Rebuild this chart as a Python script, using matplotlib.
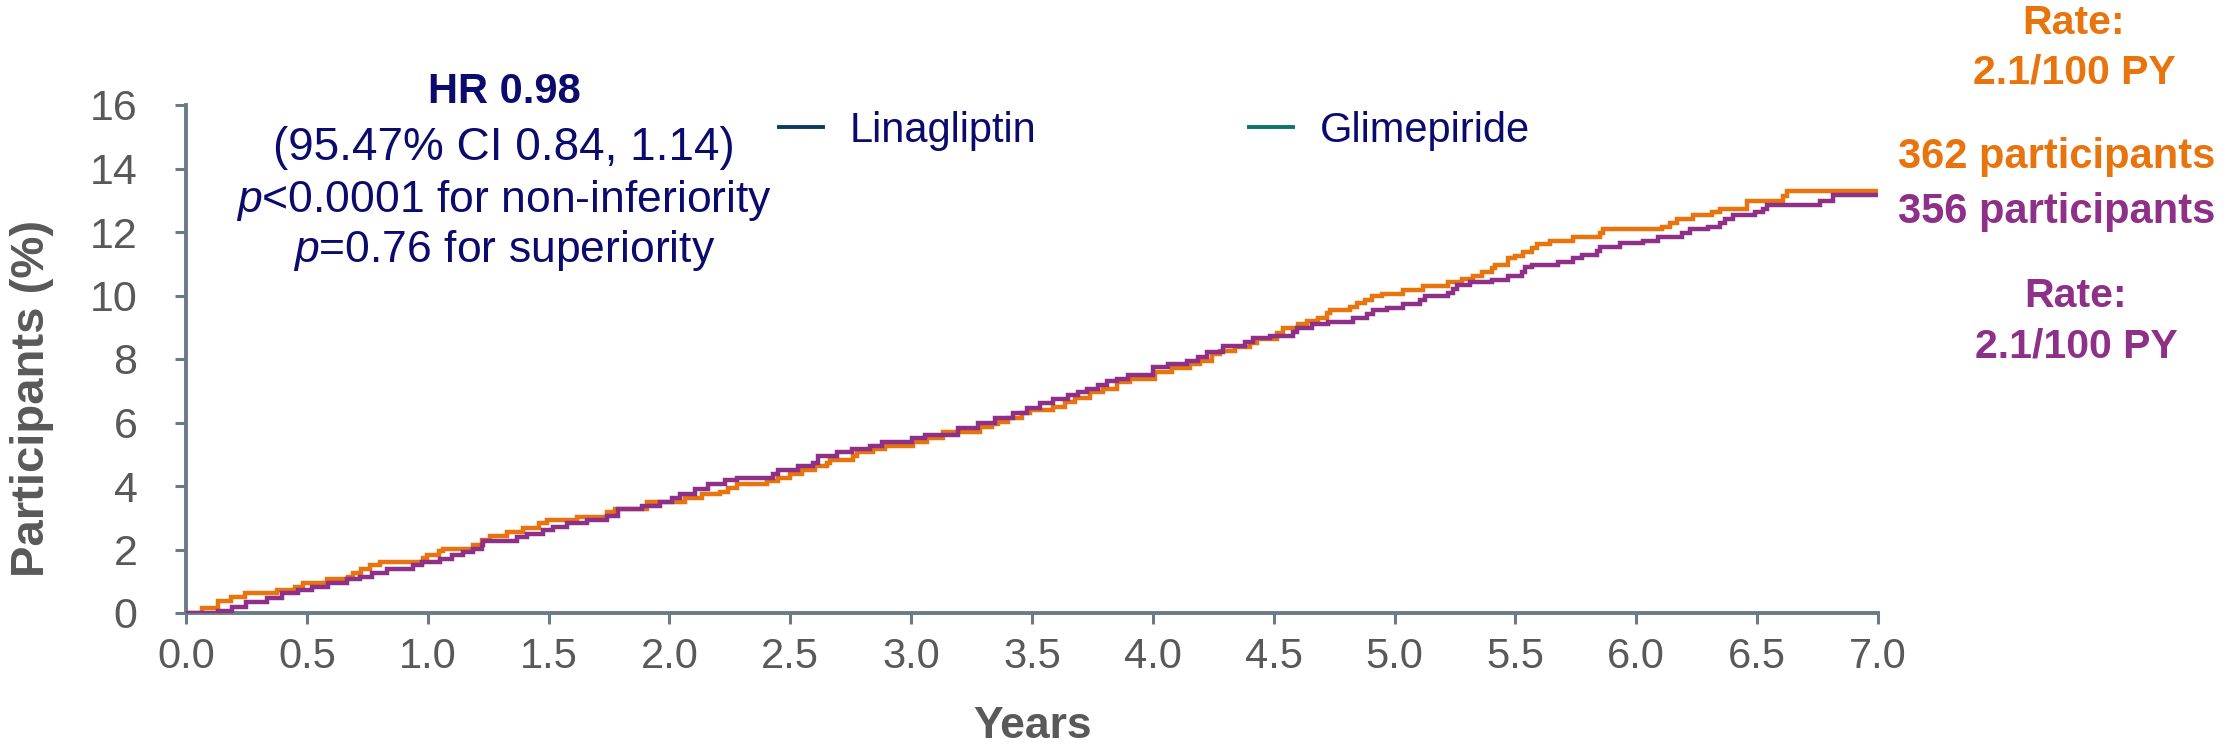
import matplotlib
matplotlib.use("Agg")
import matplotlib.pyplot as plt
from matplotlib.lines import Line2D

# Cumulative incidence (%) over follow-up (years); step times and levels after each event
glim_years = [0.0, 0.065, 0.134, 0.185, 0.244, 0.375, 0.451, 0.483, 0.582, 0.672, 0.692,
              0.724, 0.761, 0.803, 0.982, 0.999, 1.048, 1.065, 1.189, 1.223, 1.258, 1.327,
              1.396, 1.462, 1.492, 1.617, 1.741, 1.775, 1.906, 2.065, 2.134, 2.209, 2.244,
              2.278, 2.402, 2.451, 2.499, 2.547, 2.602, 2.651, 2.664, 2.761, 2.775, 2.844,
              2.892, 3.009, 3.065, 3.133, 3.285, 3.333, 3.361, 3.402, 3.457, 3.492, 3.588,
              3.637, 3.678, 3.740, 3.795, 3.851, 3.906, 4.009, 4.078, 4.154, 4.195, 4.244,
              4.278, 4.340, 4.402, 4.430, 4.513, 4.540, 4.602, 4.637, 4.685, 4.719, 4.733,
              4.816, 4.844, 4.878, 4.906, 4.947, 5.036, 5.119, 5.223, 5.278, 5.326, 5.361,
              5.402, 5.416, 5.471, 5.499, 5.533, 5.568, 5.588, 5.643, 5.740, 5.850, 5.864,
              6.105, 6.140, 6.168, 6.236, 6.312, 6.347, 6.457, 6.609, 6.623, 7.0]
glim_pct = [0.0, 0.17, 0.38, 0.51, 0.64, 0.72, 0.83, 0.96, 1.07, 1.14, 1.27,
            1.38, 1.51, 1.61, 1.72, 1.83, 1.96, 2.03, 2.14, 2.30, 2.43, 2.56,
            2.69, 2.82, 2.93, 3.03, 3.17, 3.28, 3.49, 3.62, 3.74, 3.82, 3.95,
            4.06, 4.17, 4.26, 4.39, 4.50, 4.64, 4.71, 4.82, 4.94, 5.06, 5.15,
            5.27, 5.40, 5.50, 5.71, 5.85, 5.94, 6.03, 6.15, 6.29, 6.39, 6.50,
            6.64, 6.78, 6.97, 7.06, 7.29, 7.37, 7.60, 7.73, 7.83, 7.94, 8.15,
            8.26, 8.39, 8.49, 8.63, 8.83, 8.97, 9.09, 9.20, 9.30, 9.44, 9.54,
            9.63, 9.75, 9.87, 9.98, 10.04, 10.17, 10.31, 10.44, 10.51, 10.62, 10.75,
            10.88, 10.96, 11.17, 11.25, 11.38, 11.51, 11.62, 11.72, 11.84, 11.96, 12.09,
            12.17, 12.29, 12.41, 12.54, 12.62, 12.72, 12.99, 13.14, 13.30, 13.30]

lina_years = [0.0, 0.134, 0.189, 0.248, 0.337, 0.396, 0.465, 0.520, 0.589, 0.665, 0.720,
              0.768, 0.830, 0.941, 0.975, 1.051, 1.099, 1.148, 1.189, 1.223, 1.230, 1.368,
              1.410, 1.479, 1.520, 1.575, 1.658, 1.741, 1.789, 1.885, 1.961, 2.009, 2.044,
              2.106, 2.161, 2.230, 2.278, 2.430, 2.451, 2.533, 2.596, 2.616, 2.692, 2.754,
              2.830, 2.878, 3.002, 3.058, 3.195, 3.278, 3.347, 3.423, 3.478, 3.533, 3.588,
              3.650, 3.692, 3.726, 3.775, 3.809, 3.851, 3.899, 4.002, 4.064, 4.140, 4.188,
              4.223, 4.292, 4.381, 4.416, 4.485, 4.581, 4.595, 4.657, 4.726, 4.830, 4.885,
              4.912, 4.968, 5.036, 5.105, 5.126, 5.223, 5.243, 5.257, 5.312, 5.402, 5.471,
              5.526, 5.540, 5.568, 5.678, 5.740, 5.774, 5.836, 5.850, 5.933, 6.029, 6.091,
              6.188, 6.222, 6.298, 6.347, 6.367, 6.402, 6.491, 6.526, 6.540, 6.760, 6.815, 7.0]
lina_pct = [0.0, 0.07, 0.20, 0.35, 0.48, 0.62, 0.72, 0.83, 0.94, 1.07, 1.14,
            1.27, 1.40, 1.52, 1.60, 1.70, 1.83, 1.93, 2.02, 2.14, 2.26, 2.38,
            2.49, 2.61, 2.72, 2.85, 2.93, 3.06, 3.28, 3.38, 3.49, 3.61, 3.74,
            3.91, 4.05, 4.18, 4.26, 4.37, 4.50, 4.63, 4.71, 4.93, 5.06, 5.15,
            5.27, 5.40, 5.52, 5.61, 5.84, 5.97, 6.15, 6.29, 6.47, 6.62, 6.74,
            6.87, 6.95, 7.06, 7.18, 7.31, 7.37, 7.50, 7.76, 7.83, 7.94, 8.07,
            8.23, 8.41, 8.52, 8.65, 8.72, 8.86, 8.99, 9.09, 9.18, 9.30, 9.42,
            9.54, 9.62, 9.72, 9.86, 9.99, 10.07, 10.20, 10.33, 10.44, 10.50, 10.62,
            10.75, 10.90, 10.96, 11.07, 11.19, 11.28, 11.40, 11.52, 11.64, 11.72, 11.84,
            11.96, 12.09, 12.17, 12.29, 12.41, 12.54, 12.62, 12.72, 12.85, 12.99, 13.16, 13.16]

x_ticks = [0.0, 0.5, 1.0, 1.5, 2.0, 2.5, 3.0, 3.5, 4.0, 4.5, 5.0, 5.5, 6.0, 6.5, 7.0]
y_ticks = [0, 2, 4, 6, 8, 10, 12, 14, 16]

legend_labels = ["Linagliptin", "Glimepiride"]
stats_lines = ["HR 0.98", "(95.47% CI 0.84, 1.14)",
               r"$\mathit{p}$<0.0001 for non-inferiority", r"$\mathit{p}$=0.76 for superiority"]
glim_rate = ["Rate:", "2.1/100 PY"]
glim_count = "362 participants"
lina_count = "356 participants"
lina_rate = ["Rate:", "2.1/100 PY"]

ORANGE = "#E8740E"
PURPLE = "#8E2F88"
NAVY = "#0B0B6E"
GREY = "#595959"
AXIS = "#6A7B86"

plt.rcParams["font.family"] = ["Liberation Sans", "DejaVu Sans"]
plt.rcParams["mathtext.fontset"] = "custom"
plt.rcParams["mathtext.rm"] = "Liberation Sans"
plt.rcParams["mathtext.it"] = "Liberation Sans:italic"

W, H = 2228, 744
fig = plt.figure(figsize=(W / 100, H / 100), dpi=100)


def fx(px):
    return px / W


def fy(py):
    return 1 - py / H


ax = fig.add_axes([fx(186), fy(613), fx(1878) - fx(186), fy(105) - fy(613)])

ax.plot(glim_years, glim_pct, drawstyle="steps-post", color=ORANGE, lw=3.2,
        solid_joinstyle="miter", zorder=3)
ax.plot(lina_years, lina_pct, drawstyle="steps-post", color=PURPLE, lw=3.2,
        solid_joinstyle="miter", zorder=4)

ax.set_xlim(0, 7)
ax.set_ylim(0, 16)
ax.set_xticks(x_ticks)
ax.set_xticklabels([f"{t:.1f}" for t in x_ticks], fontsize=30, color=GREY)
ax.set_yticks(y_ticks)
ax.set_yticklabels([str(t) for t in y_ticks], fontsize=31, color=GREY)
ax.tick_params(axis="both", direction="out", length=8, width=2.2, color=AXIS)
ax.tick_params(axis="x", pad=9)
ax.tick_params(axis="y", pad=27)
for side in ("top", "right"):
    ax.spines[side].set_visible(False)
for side in ("left", "bottom"):
    ax.spines[side].set_color(AXIS)
    ax.spines[side].set_linewidth(2.8)
ax.patch.set_alpha(0)

fig.text(fx(32), fy(398), "Participants (%)", rotation=90, ha="center", va="center",
         fontsize=34, fontweight="bold", color=GREY)
fig.text(fx(1033), fy(727), "Years", ha="center", va="center",
         fontsize=32, fontweight="bold", color=GREY)

# Hazard ratio box
stat_y = [88, 145, 197, 247]
stat_size = [30, 33, 32, 32]
for i, (line, y, size) in enumerate(zip(stats_lines, stat_y, stat_size)):
    fig.text(fx(504), fy(y + 15), line, ha="center", va="baseline", fontsize=size,
             fontweight="bold" if i == 0 else "normal", color=NAVY)

# Legend keys
handles = [Line2D([], [], color="#0D3B5C", lw=2.8),
           Line2D([], [], color="#0E7468", lw=2.8)]
leg = fig.legend(handles, legend_labels, ncol=2, loc="center left",
                 bbox_to_anchor=(fx(779), fy(131)), bbox_transform=fig.transFigure,
                 frameon=False, fontsize=30, handlelength=1.05, handletextpad=0.65,
                 columnspacing=5.1, borderpad=0, borderaxespad=0)
for t in leg.get_texts():
    t.set_color(NAVY)

# Rate and participant annotations at the right edge
for text, y in zip(glim_rate, [23, 73]):
    fig.text(fx(2074), fy(y), text, ha="center", va="center", fontsize=29.5,
             fontweight="bold", color=ORANGE)
fig.text(fx(2057), fy(157), glim_count, ha="center", va="center", fontsize=30,
         fontweight="bold", color=ORANGE)
fig.text(fx(2057), fy(212), lina_count, ha="center", va="center", fontsize=30,
         fontweight="bold", color=PURPLE)
for text, y in zip(lina_rate, [296, 346]):
    fig.text(fx(2076), fy(y), text, ha="center", va="center", fontsize=29.5,
             fontweight="bold", color=PURPLE)

fig.savefig("out.png", dpi=100, facecolor="white")
